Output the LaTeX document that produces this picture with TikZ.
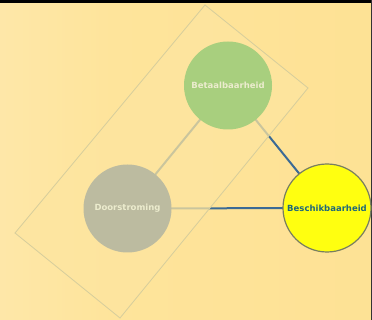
\documentclass[tikz,border=0pt]{standalone}
\usepackage{fontspec}
\setmainfont{DejaVu Sans}
\definecolor{bgA}{RGB}{255,237,190}
\definecolor{bgB}{RGB}{254,228,155}
\definecolor{bgC}{RGB}{253,224,144}
\definecolor{linkblue}{RGB}{59,106,149}
\definecolor{veil}{RGB}{253,229,160}
\definecolor{veiledge}{RGB}{214,205,156}
\definecolor{greenc}{RGB}{168,207,126}
\definecolor{grayc}{RGB}{188,187,160}
\definecolor{yellowc}{RGB}{255,255,16}
\definecolor{yellowedge}{RGB}{120,126,96}
\definecolor{tealtext}{RGB}{30,104,122}
\definecolor{paletext}{RGB}{236,236,206}
\pgfdeclarehorizontalshading{bgshade}{100bp}{color(0bp)=(bgA); color(40bp)=(bgB); color(100bp)=(bgC)}
\tikzset{
  link/.style={draw=linkblue, line width=2pt},
  circ/.style={circle, minimum size=88pt, inner sep=0pt, font=\fontsize{8.5}{10}\bfseries},
}
\begin{document}
\begin{tikzpicture}[x=1pt,y=-1pt]
\useasboundingbox (0,0) rectangle (372,320);
\shade[shading=bgshade] (0,0) rectangle (372,320);
\fill[black] (0,0) rectangle (372,3);
\fill[black!80] (371,0) rectangle (372,320);
% node positions
\coordinate (pB) at (228,85.5);
\coordinate (pD) at (127.5,208.5);
\coordinate (pS) at (327,208);
% connectors (under the veil)
\draw[link] (pB) -- (pD);
\draw[link] (pB) -- (pS);
\draw[link] (pD) -- (pS);
% veil rectangle
\coordinate (rT) at (205,5);
\coordinate (rR) at (308,88);
\coordinate (rBt) at (120,318);
\coordinate (rL) at (15,233);
\fill[veil, fill opacity=0.74] (rT) -- (rR) -- (rBt) -- (rL) -- cycle;
\draw[veiledge, line width=0.8pt] (rT) -- (rR) -- (rBt) -- (rL) -- cycle;
% circles
\node[circ, fill=greenc, text=paletext] (B) at (pB) {Betaalbaarheid};
\node[circ, fill=grayc, text=paletext] (D) at (pD) {Doorstroming};
\node[circ, fill=yellowc, draw=yellowedge, line width=1.2pt, text=tealtext] (S) at (pS) {Beschikbaarheid};
\end{tikzpicture}
\end{document}
